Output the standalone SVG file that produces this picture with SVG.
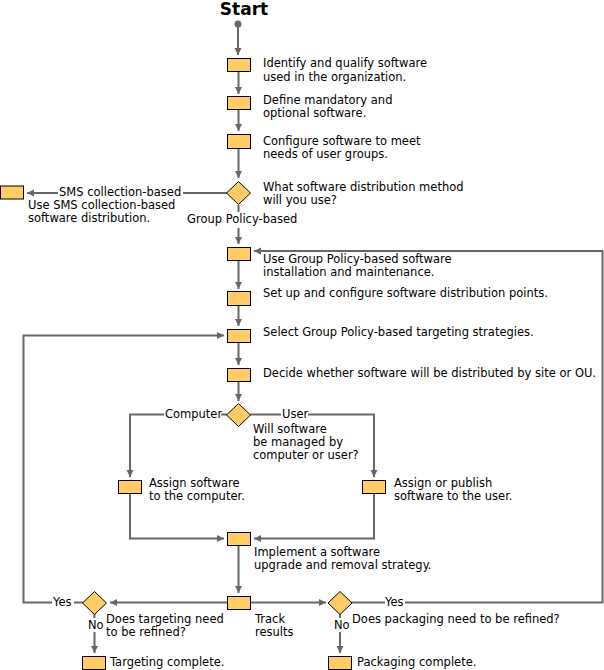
<svg xmlns="http://www.w3.org/2000/svg" width="604" height="670" viewBox="0 0 604 670">
<defs>
<marker id="arr" markerUnits="userSpaceOnUse" markerWidth="8" markerHeight="8" refX="7" refY="3.5" orient="auto">
<path d="M0,0 L7,3.5 L0,7 z" fill="#666666"/>
</marker>
<style>
.box{fill:#FFCC66;stroke:#000;stroke-width:1}
.ln{fill:none;stroke:#666666;stroke-width:2}
.a{marker-end:url(#arr)}
text{font-family:"DejaVu Sans","Verdana",sans-serif;font-size:11.5px;fill:#000}
.title{font-size:17px;font-weight:bold}
</style>
</defs>
<rect width="604" height="670" fill="#fff"/>

<g id="connectors">
<circle cx="238" cy="24" r="3.5" fill="#666666"/>
<path class="ln a" d="M238,24 V55"/>
<path class="ln a" d="M238.5,71 V94"/>
<path class="ln a" d="M238.5,109 V131"/>
<path class="ln a" d="M238.5,148 V178"/>
<path class="ln" d="M227,193 H183"/>
<path class="ln a" d="M58,193 H27"/>
<text x="59" y="196">SMS collection-based</text>
<path class="ln" d="M238.5,205 V212"/>
<path class="ln a" d="M238.5,228 V244"/>
<text x="187" y="223">Group Policy-based</text>
<path class="ln a" d="M238.5,261 V289"/>
<path class="ln a" d="M238.5,305 V326"/>
<path class="ln a" d="M238.5,343 V365"/>
<path class="ln a" d="M238.5,382 V401"/>
<path class="ln" d="M227,414.5 H221"/>
<text x="165" y="418">Computer</text>
<path class="ln a" d="M164,414.5 H130 V477"/>
<path class="ln" d="M250,414.5 H281"/>
<text x="282" y="418">User</text>
<path class="ln a" d="M308,414.5 H374 V477"/>
<path class="ln a" d="M130,494 V538.5 H224"/>
<path class="ln a" d="M374,494 V538.5 H254"/>
<path class="ln a" d="M238.5,545 V593"/>
<path class="ln a" d="M227,602.5 H110"/>
<path class="ln" d="M83,602.5 H74"/>
<text x="53" y="606">Yes</text>
<path class="ln a" d="M52,602.5 H23.5 V335.5 H224"/>
<path class="ln" d="M94.5,614 V618"/>
<text x="88" y="629">No</text>
<path class="ln a" d="M94.5,632 V653"/>
<path class="ln a" d="M251,602.5 H326"/>
<path class="ln" d="M351,602.5 H385"/>
<text x="385" y="606">Yes</text>
<path class="ln a" d="M405,602.5 H602.5 V251 H254"/>
<path class="ln" d="M340,614 V618"/>
<text x="334" y="629">No</text>
<path class="ln a" d="M340,632 V653"/>
</g>

<g id="start"><text class="title" x="244" y="15" text-anchor="middle">Start</text></g>

<g id="n1"><rect class="box" x="227.5" y="58.5" width="23" height="13"/>
<text x="263" y="67">Identify and qualify software</text><text x="263" y="81">used in the organization.</text></g>

<g id="n2"><rect class="box" x="227.5" y="96.5" width="23" height="13"/>
<text x="263" y="104">Define mandatory and</text><text x="263" y="117">optional software.</text></g>

<g id="n3"><rect class="box" x="227.5" y="134.5" width="23" height="14"/>
<text x="263" y="145">Configure software to meet</text><text x="263" y="158">needs of user groups.</text></g>

<g id="d1"><path class="box" d="M238.5,181.5 L250.5,193 L238.5,204.5 L226.5,193 Z"/>
<text x="263" y="191">What software distribution method</text><text x="263" y="204">will you use?</text></g>

<g id="sms"><rect class="box" x="0.5" y="186" width="23" height="13"/>
<text x="28" y="209">Use SMS collection-based</text><text x="28" y="222">software distribution.</text></g>

<g id="n4"><rect class="box" x="227.5" y="247.5" width="23" height="13"/>
<text x="263" y="263">Use Group Policy-based software</text><text x="263" y="276">installation and maintenance.</text></g>

<g id="n5"><rect class="box" x="227.5" y="291.5" width="23" height="14"/>
<text x="263" y="297">Set up and configure software distribution points.</text></g>

<g id="n6"><rect class="box" x="227.5" y="329.5" width="23" height="13"/>
<text x="263" y="336">Select Group Policy-based targeting strategies.</text></g>

<g id="n7"><rect class="box" x="227.5" y="368.5" width="23" height="13"/>
<text x="263" y="377">Decide whether software will be distributed by site or OU.</text></g>

<g id="d2"><path class="box" d="M238.5,403.5 L250.5,415 L238.5,426.5 L226.5,415 Z"/>
<text x="253" y="433">Will software</text><text x="253" y="446">be managed by</text><text x="253" y="459">computer or user?</text></g>

<g id="n8"><rect class="box" x="118.5" y="480.5" width="23" height="13"/>
<text x="149" y="487">Assign software</text><text x="149" y="500">to the computer.</text></g>

<g id="n9"><rect class="box" x="362.5" y="480.5" width="23" height="13"/>
<text x="394" y="487">Assign or publish</text><text x="394" y="500">software to the user.</text></g>

<g id="n10"><rect class="box" x="227.5" y="532.5" width="23" height="13"/>
<text x="254" y="556">Implement a software</text><text x="254" y="569">upgrade and removal strategy.</text></g>

<g id="n11"><rect class="box" x="227.5" y="596.5" width="23" height="13"/>
<text x="255" y="623">Track</text><text x="255" y="636">results</text></g>

<g id="d3"><path class="box" d="M94.5,591.5 L106.5,603 L94.5,614.5 L82.5,603 Z"/>
<text x="106" y="623">Does targeting need</text><text x="106" y="636">to be refined?</text></g>

<g id="n12"><rect class="box" x="82.5" y="656.5" width="23" height="13"/>
<text x="110" y="666">Targeting complete.</text></g>

<g id="d4"><path class="box" d="M340,591.5 L352,603 L340,614.5 L328,603 Z"/>
<text x="352" y="623">Does packaging need to be refined?</text></g>

<g id="n13"><rect class="box" x="328.5" y="656.5" width="23" height="13"/>
<text x="357" y="666">Packaging complete.</text></g>
</svg>
